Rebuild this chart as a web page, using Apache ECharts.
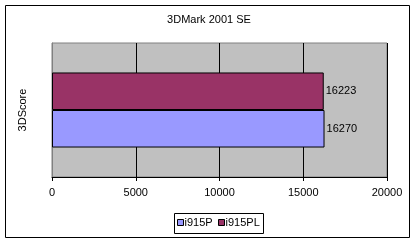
<!DOCTYPE html>
<html><head><meta charset="utf-8">
<script src="https://cdn.jsdelivr.net/npm/echarts@6/dist/echarts.min.js"></script>
<style>html,body{margin:0;padding:0;background:#fff}#c{width:418px;height:242px}</style>
</head><body><div id="c"></div>
<script>
var categories = ['3DScore'];
var seriesNames = ['i915P', 'i915PL'];
var i915P = [16270];
var i915PL = [16223];
var xTicks = [0, 5000, 10000, 15000, 20000];
var colors = {i915P:'#9999FF', i915PL:'#993366'};
var font = 'Liberation Sans, Arial, sans-serif';
function barSeries(name, data) {
  return {name:name, type:'bar', data:data, barGap:'0%', barCategoryGap:'44%',
     itemStyle:{color:colors[name], borderColor:'#000', borderWidth:1},
     label:{show:true, position:'right', distance:2, fontFamily:font, fontSize:11, color:'#000'}};
}
function legendItem(name, left) {
  return {data:[name], left:left, top:217, padding:0, itemWidth:6, itemHeight:6,
    textStyle:{fontFamily:font, fontSize:11, color:'#000', padding:[0,0,0,-4]}, icon:'rect',
    itemStyle:{borderColor:'#000', borderWidth:1}};
}
var chart = echarts.init(document.getElementById('c'));
chart.setOption({
  animation: false,
  graphic: [{type:'rect', shape:{x:5.5,y:5.5,width:404,height:232}, style:{fill:'none', stroke:'#000', lineWidth:1}, silent:true},
            {type:'rect', shape:{x:174.5,y:213.5,width:89,height:20}, style:{fill:'none', stroke:'#000', lineWidth:1}, silent:true}],
  title: {text:'3DMark 2001 SE', left:'center', top:9, textStyle:{fontFamily:font, fontSize:11, fontWeight:'normal', color:'#000'}},
  grid: {left:52, right:31, top:43, bottom:65, backgroundColor:'#C0C0C0', show:true, borderColor:'#808080', borderWidth:1},
  legend: [legendItem(seriesNames[0], 177), legendItem(seriesNames[1], 218)],
  xAxis: {type:'value', min:xTicks[0], max:xTicks[xTicks.length-1], interval:5000,
    axisLine:{show:true, lineStyle:{color:'#000'}}, axisTick:{show:true, length:4, lineStyle:{color:'#000'}},
    axisLabel:{fontFamily:font, fontSize:11, color:'#000', margin:10, formatter:function(v){return String(v);}},
    splitLine:{show:true, lineStyle:{color:'#000', width:1}}},
  yAxis: {type:'category', data:categories, name:'3DScore', nameLocation:'middle', nameGap:24, nameRotate:90,
    nameTextStyle:{fontFamily:font, fontSize:11, color:'#000'},
    axisLabel:{show:false}, axisTick:{show:false}, axisLine:{show:true, lineStyle:{color:'#808080'}}},
  series: [ barSeries('i915PL', i915PL), barSeries('i915P', i915P) ]
});
</script></body></html>
